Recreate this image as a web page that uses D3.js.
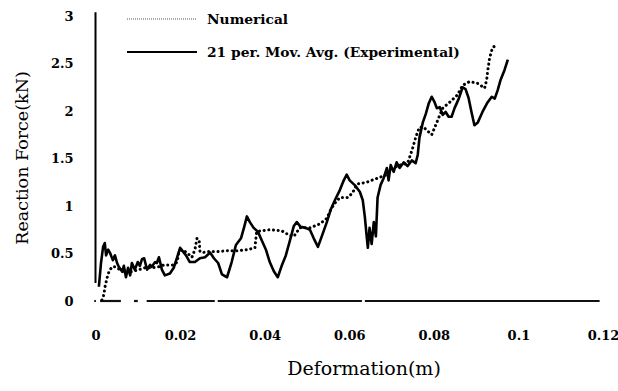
<!DOCTYPE html>
<html><head><meta charset="utf-8">
<script src="https://cdn.jsdelivr.net/npm/d3@7/dist/d3.min.js"></script>
<style>body{margin:0;background:#fff}svg{display:block}</style>
</head><body>
<svg id="c" width="618" height="391"></svg>
<script>
// Numerical (dotted) series: [deformation m, force kN]
const numerical = [
[0.0015,0.01],[0.002,0.07],[0.0022,0.14],[0.0027,0.24],[0.0032,0.31],[0.0039,0.36],[0.0046,0.36],
[0.0058,0.33],[0.007,0.29],[0.0086,0.31],[0.0103,0.33],[0.0117,0.35],[0.0133,0.35],[0.015,0.36],
[0.0162,0.38],[0.0174,0.38],[0.0185,0.38],[0.0193,0.41],[0.0197,0.51],[0.0204,0.54],[0.0216,0.51],
[0.0228,0.46],[0.0235,0.54],[0.024,0.66],[0.0245,0.64],[0.0247,0.52],[0.0254,0.51],[0.0266,0.52],
[0.0289,0.52],[0.0313,0.53],[0.0336,0.53],[0.036,0.54],[0.0377,0.56],[0.0381,0.73],[0.0393,0.74],
[0.0412,0.75],[0.044,0.74],[0.0459,0.69],[0.0469,0.68],[0.0483,0.77],[0.0507,0.77],[0.053,0.81],
[0.0547,0.87],[0.0556,0.96],[0.0566,1.03],[0.0578,1.09],[0.0597,1.09],[0.0608,1.14],[0.0618,1.23],
[0.0641,1.25],[0.0665,1.29],[0.0689,1.33],[0.0703,1.40],[0.0719,1.43],[0.0738,1.45],[0.075,1.61],
[0.0757,1.72],[0.0766,1.83],[0.0776,1.83],[0.0785,1.79],[0.0795,1.75],[0.0807,1.88],[0.0821,2.03],
[0.0837,2.09],[0.0856,2.17],[0.0868,2.27],[0.0885,2.31],[0.0904,2.29],[0.092,2.24],[0.0925,2.33],
[0.0927,2.41],[0.0932,2.56],[0.0939,2.67],[0.0948,2.69]
];
// 21 per. Mov. Avg. (Experimental) series
const experimental = [
[0.0008,0.15],[0.0013,0.40],[0.0018,0.57],[0.0022,0.61],[0.0025,0.48],[0.003,0.54],[0.0034,0.51],
[0.0041,0.43],[0.0046,0.48],[0.0051,0.40],[0.0055,0.36],[0.0063,0.31],[0.0067,0.37],[0.0072,0.25],
[0.0077,0.35],[0.0082,0.27],[0.0086,0.40],[0.0093,0.33],[0.01,0.41],[0.0105,0.37],[0.011,0.44],
[0.0115,0.45],[0.0122,0.33],[0.0129,0.38],[0.0133,0.36],[0.0141,0.41],[0.0145,0.40],[0.015,0.46],
[0.0157,0.33],[0.0164,0.27],[0.0176,0.29],[0.0185,0.35],[0.0193,0.46],[0.02,0.56],[0.0207,0.52],
[0.0214,0.48],[0.0223,0.41],[0.0235,0.41],[0.0247,0.45],[0.0259,0.46],[0.0271,0.51],[0.028,0.45],
[0.029,0.40],[0.0299,0.28],[0.0311,0.25],[0.0322,0.41],[0.0332,0.59],[0.0344,0.66],[0.0351,0.77],
[0.0358,0.89],[0.0365,0.83],[0.0374,0.77],[0.0384,0.73],[0.0393,0.64],[0.0403,0.54],[0.0412,0.41],
[0.0422,0.31],[0.0431,0.25],[0.0441,0.38],[0.045,0.48],[0.046,0.64],[0.0469,0.79],[0.0476,0.83],
[0.0485,0.78],[0.0497,0.77],[0.0507,0.75],[0.0516,0.66],[0.0526,0.57],[0.0535,0.68],[0.0547,0.83],
[0.0556,0.96],[0.0566,1.06],[0.0578,1.17],[0.0587,1.27],[0.0594,1.33],[0.0601,1.27],[0.0613,1.22],
[0.0625,1.15],[0.0632,1.06],[0.0637,0.88],[0.0641,0.69],[0.0644,0.56],[0.0648,0.77],[0.0653,0.60],
[0.0658,0.83],[0.0663,0.68],[0.0667,1.09],[0.0674,1.22],[0.0681,1.29],[0.0689,1.40],[0.0693,1.27],
[0.0698,1.43],[0.0705,1.36],[0.0712,1.46],[0.0719,1.40],[0.0729,1.46],[0.0738,1.42],[0.0748,1.48],
[0.0757,1.45],[0.0762,1.54],[0.0766,1.72],[0.0774,1.88],[0.0781,1.97],[0.0788,2.08],[0.0795,2.15],
[0.0802,2.09],[0.0807,2.03],[0.0814,2.04],[0.0821,1.96],[0.0828,1.99],[0.0835,1.94],[0.0842,1.94],
[0.0849,2.03],[0.0859,2.13],[0.0868,2.25],[0.0875,2.23],[0.0882,2.14],[0.0889,1.99],[0.0896,1.85],
[0.0904,1.88],[0.0915,1.99],[0.0927,2.09],[0.0937,2.15],[0.0944,2.13],[0.0951,2.22],[0.0958,2.33],
[0.0967,2.43],[0.0975,2.54]
];
// zero line pieces (as drawn, with gaps)
const zeroLinePieces = [[-0.0003,0.0001],[0.0011,0.006],[0.0091,0.01],[0.0121,0.0282],[0.0289,0.063],[0.0637,0.1192]];
const xTicks = [0,0.02,0.04,0.06,0.08,0.1,0.12];
const xTickLabels = ["0","0.02","0.04","0.06","0.08","0.1","0.12"];
const yTicks = [0,0.5,1,1.5,2,2.5,3];
const yTickLabels = ["0","0.5","1","1.5","2","2.5","3"];
const legendLabels = ["Numerical","21 per. Mov. Avg. (Experimental)"];
const xTitle = "Deformation(m)";
const yTitle = "Reaction Force(kN)";

const svg = d3.select("#c");
const x = d3.scaleLinear().domain([0,0.12]).range([95.5,603]);
const y = d3.scaleLinear().domain([0,3]).range([301,16]);
const tickFont = "'DejaVu Serif', serif";

// axes (labels only)
const gx = svg.append("g").attr("transform",`translate(0,${y(0)})`)
  .call(d3.axisBottom(x).tickValues(xTicks).tickSize(0).tickPadding(30)
    .tickFormat((d,i)=>xTickLabels[i]));
gx.select(".domain").remove();
gx.selectAll("text").attr("font-family",tickFont).attr("font-weight","bold").attr("font-size",13).attr("fill","#000");

const gy = svg.append("g").attr("transform",`translate(${x(0)},0)`)
  .call(d3.axisLeft(y).tickValues(yTicks).tickSize(0).tickPadding(22)
    .tickFormat((d,i)=>yTickLabels[i]));
gy.select(".domain").remove();
gy.selectAll("text").attr("font-family",tickFont).attr("font-weight","bold").attr("font-size",13).attr("fill","#000");

// y axis line
svg.append("line").attr("x1",x(0)).attr("x2",x(0)).attr("y1",y(3.04)).attr("y2",y(0.19))
  .attr("stroke","#000").attr("stroke-width",2);
// zero line pieces
svg.append("g").selectAll("line").data(zeroLinePieces).join("line")
  .attr("x1",d=>x(d[0])).attr("x2",d=>x(d[1])).attr("y1",y(0)).attr("y2",y(0))
  .attr("stroke","#111").attr("stroke-width",2.2);

const line = d3.line().x(d=>x(d[0])).y(d=>y(d[1]));
svg.append("path").datum(experimental).attr("d",line).attr("fill","none")
  .attr("stroke","#000").attr("stroke-width",2.6).attr("stroke-linejoin","round");
svg.append("path").datum(numerical).attr("d",line).attr("fill","none")
  .attr("stroke","#000").attr("stroke-width",3).attr("stroke-linecap","round")
  .attr("stroke-dasharray","0.1,4.6");

// legend
const lg = svg.append("g");
lg.append("line").attr("x1",127).attr("x2",197).attr("y1",19).attr("y2",19)
  .attr("stroke","#555").attr("stroke-width",1).attr("stroke-dasharray","1,1");
lg.append("line").attr("x1",127).attr("x2",197).attr("y1",52).attr("y2",52)
  .attr("stroke","#000").attr("stroke-width",2);
lg.selectAll("text").data(legendLabels).join("text")
  .attr("x",207).attr("y",(d,i)=>24+i*33)
  .attr("font-family",tickFont).attr("font-weight","bold").attr("font-size",13.8).attr("fill","#000")
  .text(d=>d);

// titles
svg.append("text").attr("x",364).attr("y",375).attr("text-anchor","middle")
  .attr("font-family",tickFont).attr("font-size",19).attr("fill","#000").text(xTitle);
svg.append("text").attr("transform","translate(28,158) rotate(-90)").attr("text-anchor","middle")
  .attr("font-family",tickFont).attr("font-size",17.5).attr("fill","#000").text(yTitle);
</script>
</body></html>
